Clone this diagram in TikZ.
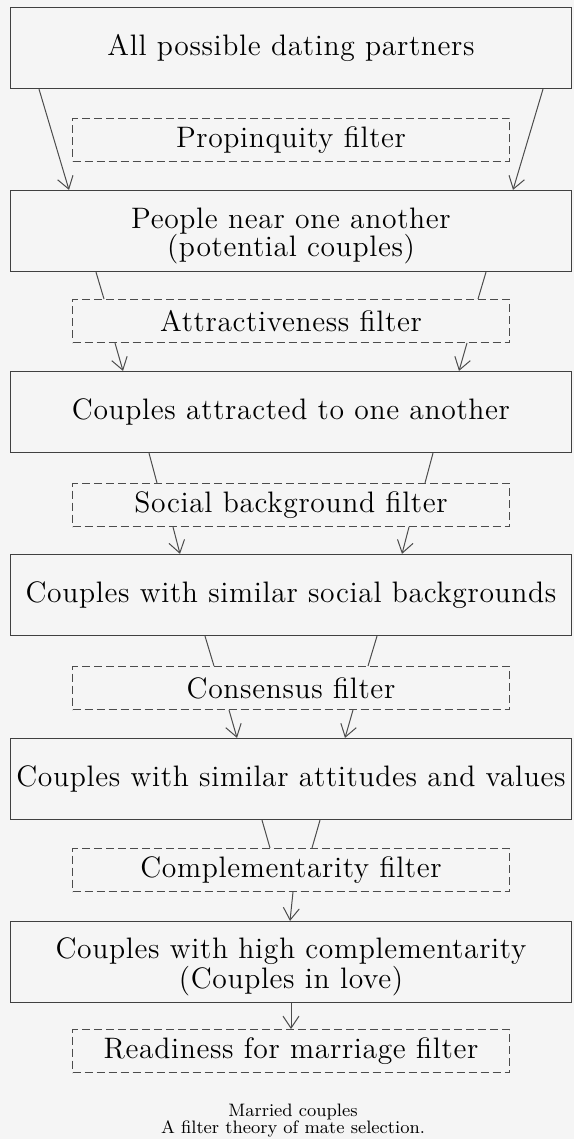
\documentclass[tikz,border=0pt]{standalone}
\usepackage{fontspec}
\usetikzlibrary{arrows.meta,calc}
\newfontfamily\stagefam{lmroman12-regular}[Extension=.otf, LetterSpace=2.2]
\newcommand{\stagefont}{\stagefam\fontsize{14.8}{14}\selectfont}
\begin{document}
\begin{tikzpicture}[
    x=0.5pt, y=-0.5pt,
    pool/.style={draw=black!75, line width=0.6pt, minimum width=280.5pt, minimum height=40.5pt, text centered, align=center, inner sep=0pt, font=\stagefont},
    filterbox/.style={draw=black!70, line width=0.5pt, dash pattern=on 4pt off 2pt, minimum width=218.5pt, minimum height=21.5pt, text centered, inner sep=0pt, font=\stagefont},
    flow/.style={draw=black!70, line width=0.5pt},
    arr/.style={flow, -{Straight Barb[length=6pt, width=8pt]}}
]
\useasboundingbox (0,0) rectangle (574,1139);

% Fondo del papel
\fill[black!4] (0,0) rectangle (574,1139);

% Cajas de parejas
\node[pool] (C1) at (291, 48) {All possible dating partners};
\node[pool] (C2) at (291, 231) {\rule{0pt}{15pt}People near one another\\(potential couples)};
\node[pool] (C3) at (291, 412) {Couples attracted to one another};
\node[pool] (C4) at (291, 595) {Couples with similar social backgrounds};
\node[pool] (C5) at (291, 779) {Couples with similar attitudes and values};
\node[pool] (C6) at (291, 962) {\rule{0pt}{15pt}Couples with high complementarity\\(Couples in love)};

% Filtros punteados entre las cajas
\foreach \fname/\fy/\ftext in {
    F1/140/Propinquity filter,
    F2/321/Attractiveness filter,
    F3/505/Social background filter,
    F4/688/Consensus filter,
    F5/870/Complementarity filter,
    F6/1051/Readiness for marriage filter
} {
    \node[filterbox] (\fname) at (291, \fy) {\ftext};
}

% Primer paso: las flechas pasan por fuera del filtro
\draw[arr] ($(C1.south)+(-252,0)$) -- ($(C2.north)+(-222,0)$);
\draw[arr] ($(C1.south)+(252,0)$) -- ($(C2.north)+(222,0)$);

% Embudos: caja, filtro, caja siguiente y separaciones en X
\foreach \up/\flt/\down/\a/\b/\c/\d in {
    C2/F2/C3/195/187/176/168,
    C3/F3/C4/142/134/118/111,
    C4/F4/C5/86/77/62/54
} {
    \draw[flow] ($(\up.south)+(-\a,0)$) -- ($(\flt.north)+(-\b,0)$);
    \draw[flow] ($(\up.south)+(\a,0)$) -- ($(\flt.north)+(\b,0)$);
    \draw[arr] ($(\flt.south)+(-\c,0)$) -- ($(\down.north)+(-\d,0)$);
    \draw[arr] ($(\flt.south)+(\c,0)$) -- ($(\down.north)+(\d,0)$);
}

% Los dos últimos pasos
\draw[flow] ($(C5.south)+(-29,0)$) -- ($(F5.north)+(-21,0)$);
\draw[flow] ($(C5.south)+(29,0)$) -- ($(F5.north)+(21,0)$);
\draw[arr] ($(F5.south)+(2,0)$) -- ($(C6.north)+(-1,0)$);
\draw[arr] (C6.south) -- (F6.north);

% Resultado final
\node[font=\fontsize{9}{8.5}\selectfont, align=center] (married) at (293, 1121) {Married couples\\A filter theory of mate selection.};
\end{tikzpicture}
\end{document}
